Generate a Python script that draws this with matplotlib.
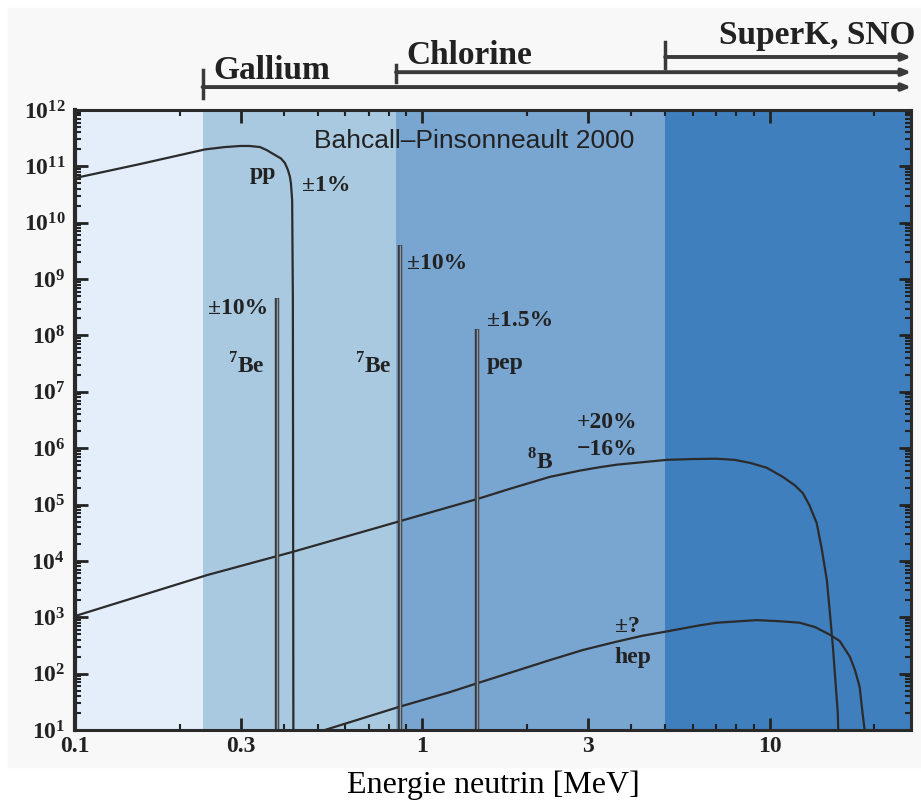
import matplotlib
matplotlib.use("Agg")
import matplotlib.pyplot as plt
from matplotlib.patches import Rectangle
from matplotlib.ticker import FixedLocator, LogLocator, NullFormatter

plt.rcParams['mathtext.fontset'] = 'custom'
plt.rcParams['mathtext.rm'] = 'Liberation Serif'
plt.rcParams['mathtext.bf'] = 'Liberation Serif:bold'

# solar neutrino spectra (E in MeV, flux)
pp_E = [0.1, 0.154, 0.237, 0.270, 0.299, 0.318, 0.341, 0.356, 0.376, 0.3918, 0.402,
        0.410, 0.4155, 0.4185, 0.4219, 0.4239, 0.4255]
pp_flux = [6.2e10, 1.1e11, 2.0e11, 2.2e11, 2.3e11, 2.3e11, 2.2e11, 1.95e11, 1.6e11, 1.38e11,
           1.15e11, 8.7e10, 6.6e10, 5.0e10, 2.5e10, 4.3e8, 1]

b8_E = [0.1, 0.24, 0.424, 1.2, 1.444, 1.785, 2.33, 2.84, 3.24, 3.63, 5.05, 5.89, 7.04, 7.93,
        8.76, 9.80, 10.9, 11.8, 12.45, 13.0, 13.65, 14.1, 14.6, 14.9, 15.2, 15.7, 15.9]
b8_flux = [1.05e3, 5.6e3, 1.45e4, 9.1e4, 1.26e5, 1.9e5, 3.1e5, 4.0e5, 4.6e5, 5.1e5, 6.2e5,
           6.4e5, 6.5e5, 6.2e5, 5.5e5, 4.5e5, 3.1e5, 2.2e5, 1.6e5, 9.8e4, 4.7e4, 1.7e4,
           4.6e3, 1.2e3, 3.0e2, 20, 1]

hep_E = [0.45, 0.524, 0.862, 1.2, 1.444, 2.33, 2.9, 3.63, 4.3, 5.05, 6.29, 7.04, 9.18, 10.7,
         12.2, 13.5, 14.9, 15.9, 17.0, 17.6, 18.15, 18.5, 18.76, 19.0]
hep_flux = [6, 10, 26, 47, 68, 174, 263, 370, 470, 560, 720, 800, 890, 850,
            800, 670, 490, 380, 200, 115, 58, 20, 10, 1]

# lines: 7Be (0.38), 7Be (0.86), pep
line_E = [0.381, 0.862, 1.435]
line_top = [4.6e8, 4.0e9, 1.3e8]

# detector thresholds / shaded bands
band_edges = [0.1, 0.233, 0.84, 5.0, 25.5]
band_colors = ['#e3eefa', '#a9c9e0', '#79a5d1', '#3f7fbd']

detectors = ['Gallium', 'Chlorine', 'SuperK, SNO']
det_threshold = [0.233, 0.84, 5.0]

y_ticks = [10.0 ** k for k in range(1, 13)]
y_labels = [r'$\mathbf{10^{%d}}$' % k for k in range(1, 13)]
x_ticks = [0.1, 0.3, 1, 3, 10]
x_labels = ['0.1', '0.3', '1', '3', '10']

fig = plt.figure(figsize=(9.21, 8), dpi=100, facecolor='white')
fig.patches.append(Rectangle((0.0087, 0.041), 1.0, 0.949, transform=fig.transFigure,
                             color='#f8f8f8', zorder=-10))
ax = fig.add_axes([0.0814, 0.0875, 0.9077, 0.775])
ax.set_xscale('log')
ax.set_yscale('log')
ax.set_xlim(0.1, 25.5)
ax.set_ylim(10, 1e12)

for i in range(len(band_colors)):
    ax.axvspan(band_edges[i], band_edges[i + 1], color=band_colors[i], lw=0, zorder=0)

dark = '#2b2b2b'
ax.plot(pp_E, pp_flux, color=dark, lw=1.6)
ax.plot(b8_E, b8_flux, color=dark, lw=1.6)
ax.plot(hep_E, hep_flux, color=dark, lw=1.6)
ax.vlines(line_E, 10, line_top, color='#3a3a3a', lw=3.2)
ax.vlines(line_E, 10, line_top, color='#8c9aa8', lw=1.0)

# labels on the curves
tkw = dict(family='Liberation Serif', fontweight='bold', fontsize=17, color='#222222', va='center')
ax.text(1.406, 2.8e11, 'Bahcall\u2013Pinsonneault 2000', family='Liberation Sans',
        fontsize=19, color='#222222', ha='center', va='center')
ax.text(0.3475, 7.6e10, 'pp', ha='center', **tkw)
ax.text(0.45, 4.5e10, '\u00b11%', ha='left', **tkw)
ax.text(0.359, 2.95e8, '\u00b110%', ha='right', **tkw)
ax.text(0.352, 2.9e7, r'$^\mathbf{7}$Be', ha='right', **tkw)
ax.text(0.817, 2.9e7, r'$^\mathbf{7}$Be', ha='right', **tkw)
ax.text(0.902, 1.86e9, '\u00b110%', ha='left', **tkw)
ax.text(1.533, 1.86e8, '\u00b11.5%', ha='left', **tkw)
ax.text(1.533, 3.2e7, 'pep', ha='left', **tkw)
ax.text(2.78, 2.9e6, '+20%', ha='left', **tkw)
ax.text(2.78, 9.3e5, '\u221216%', ha='left', **tkw)
ax.text(2.0, 5.7e5, r'$^\mathbf{8}$B', ha='left', **tkw)
ax.text(3.58, 680, '\u00b1?', ha='left', **tkw)
ax.text(3.58, 197, 'hep', ha='left', **tkw)

# detector ranges above the plot
trans = ax.get_xaxis_transform()
bar_y = [1.037, 1.061, 1.0855]
tick_lo = [1.019, 1.045, 1.068]
tick_hi = [1.0645, 1.0726, 1.110]
for i in range(3):
    ax.annotate('', xy=(25.6, bar_y[i]), xytext=(det_threshold[i], bar_y[i]),
                xycoords=trans, textcoords=trans,
                arrowprops=dict(arrowstyle='-|>,head_length=0.5,head_width=0.2',
                                lw=2.8, color='#3a3a3a', shrinkA=0, shrinkB=0))
    ax.plot([det_threshold[i]] * 2, [tick_lo[i], tick_hi[i]], transform=trans,
            color='#3a3a3a', lw=2.5, clip_on=False)
dkw = dict(family='Liberation Serif', fontweight='bold', fontsize=24, color='#222222',
           va='center', transform=trans)
ax.text(0.251, 1.063, detectors[0], ha='left', **dkw)
ax.text(0.902, 1.0875, detectors[1], ha='left', **dkw)
ax.text(26.2, 1.12, detectors[2], ha='right', **dkw)

# axes styling
ax.xaxis.set_major_locator(FixedLocator(x_ticks))
ax.set_xticklabels(x_labels)
ax.xaxis.set_minor_locator(LogLocator(base=10, subs=range(2, 10)))
ax.xaxis.set_minor_formatter(NullFormatter())
ax.yaxis.set_major_locator(FixedLocator(y_ticks))
ax.set_yticklabels(y_labels)
ax.yaxis.set_minor_locator(LogLocator(base=10, subs=range(2, 10), numticks=20))
ax.yaxis.set_minor_formatter(NullFormatter())
ax.tick_params(which='both', direction='in', top=True, right=True, color='#222222')
ax.tick_params(which='major', length=9, width=2)
ax.tick_params(which='minor', length=4.5, width=1.5)
ax.tick_params(axis='y', pad=7)
ax.tick_params(axis='x', pad=4)
for lab in ax.get_xticklabels() + ax.get_yticklabels():
    lab.set_family('Liberation Serif')
    lab.set_fontweight('bold')
    lab.set_fontsize(17)
    lab.set_color('#222222')
for sp in ax.spines.values():
    sp.set_linewidth(2.2)
    sp.set_color('#2a2a2a')
ax.spines['left'].set_linewidth(3)

ax.set_xlabel('Energie neutrin [MeV]', family='Liberation Serif', fontsize=23, labelpad=10)

fig.savefig('out.png', dpi=100, facecolor=fig.get_facecolor())
